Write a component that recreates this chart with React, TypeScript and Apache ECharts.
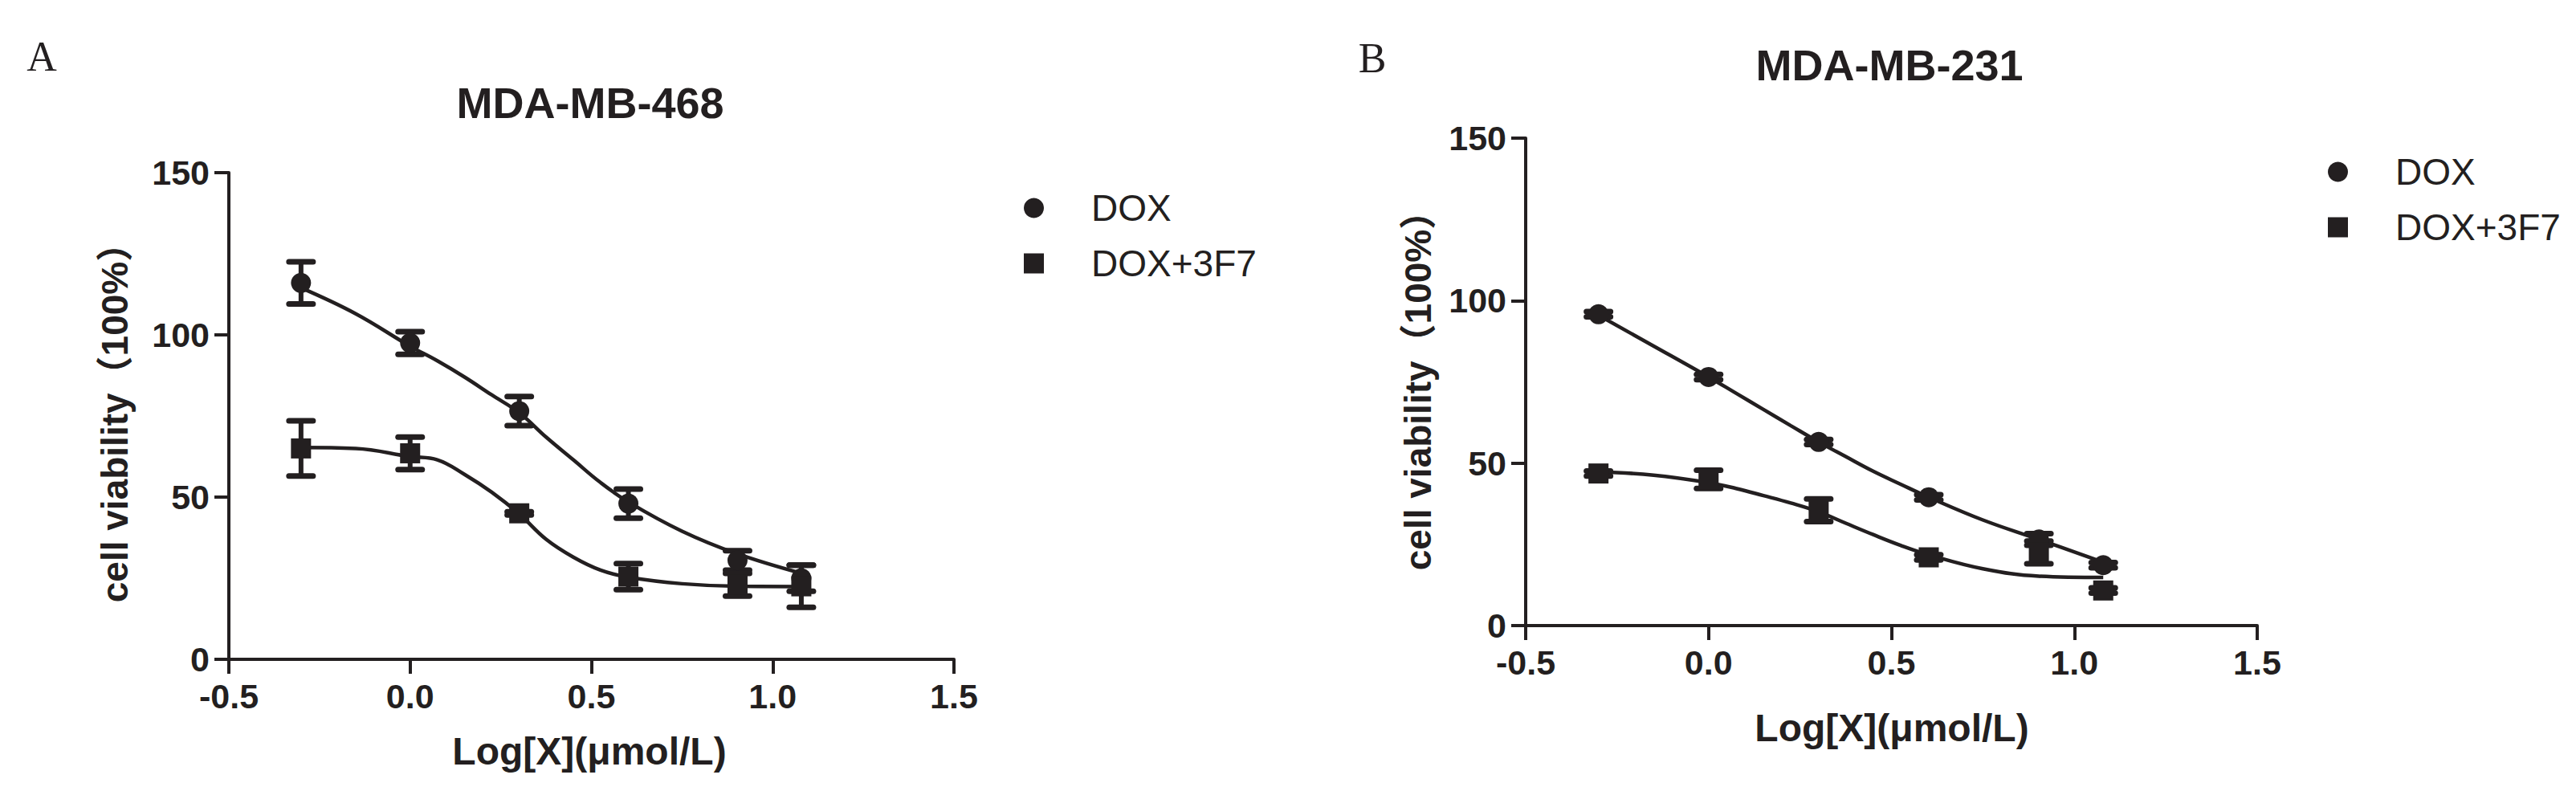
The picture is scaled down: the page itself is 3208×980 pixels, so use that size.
import React, { useEffect, useRef } from "react";
import * as echarts from "echarts";

const INK = "#231f20";
const SANS = '"Liberation Sans", Arial, Helvetica, "Noto Sans CJK SC", sans-serif';
const SERIF = '"Liberation Serif", "Times New Roman", serif';

// log10 of doses (µmol/L): 0.5, 1, 2, 4, 8, 12
const doses = [-0.301, 0, 0.301, 0.602, 0.903, 1.079];
const xTicks = [-0.5, 0.0, 0.5, 1.0, 1.5];
const yTicks = [0, 50, 100, 150];
const seriesNames = ["DOX", "DOX+3F7"];

// Panel A: MDA-MB-468
const doxA = [116, 97.5, 76.5, 48, 30.5, 25];
const doxAErr = [6.5, 3.5, 4.5, 4.5, 3, 4];
const comboA = [65, 63.5, 45, 25.5, 23, 22.5];
const comboAErr = [8.5, 5, 0.5, 4, 3.5, 6.5];

// Panel B: MDA-MB-231
const doxB = [95.8, 76.5, 56.5, 39.5, 26.5, 18.6];
const doxBErr = [0.8, 0.8, 0.8, 0.8, 1.8, 0.8];
const comboB = [46.8, 45, 35.5, 21, 22.5, 10.8];
const comboBErr = [0.8, 2.8, 3.5, 0.8, 3.5, 0.8];

// fitted curves
const fitX = [-0.301, -0.15, 0, 0.075, 0.15, 0.225, 0.301, 0.375, 0.45, 0.525, 0.602, 0.75, 0.903, 1.079];
const doxAFit = [114.5, 106.5, 96.5, 92, 87, 81.5, 76, 68.5, 61.5, 54.5, 48.5, 39.5, 32.5, 26.5];
const comboAFit = [65.3, 65, 62.5, 61.5, 57, 51.5, 44.8, 37, 31.5, 27.5, 25.3, 23.3, 22.5, 22.4];
const doxBFit = [95.5, 86, 76.5, 71.5, 66.5, 61.5, 56.5, 52, 47.5, 43.5, 39.5, 32.5, 26.5, 19.5];
const comboBFit = [47.3, 46.3, 44, 42.2, 40, 37.7, 35, 31.5, 28, 24.7, 21.8, 17.5, 15.2, 14.8];

const pairs = (xs: number[], ys: number[]) => xs.map((x, i) => [x, ys[i]]);
const errs = (xs: number[], ys: number[], es: number[]) =>
  xs.map((x, i) => [x, ys[i] - es[i], ys[i] + es[i]]);

const renderErr = (_params: any, api: any) => {
  const x = api.value(0);
  const lo = api.value(1);
  const hi = api.value(2);
  const top = api.coord([x, hi]);
  const bot = api.coord([x, lo]);
  const hw = 15;
  return {
    type: "group",
    children: [
      { type: "line", shape: { x1: top[0], y1: top[1], x2: bot[0], y2: bot[1] }, style: { stroke: INK, lineWidth: 6 } },
      { type: "line", shape: { x1: top[0] - hw, y1: top[1], x2: top[0] + hw, y2: top[1] }, style: { stroke: INK, lineWidth: 7, lineCap: "round" } },
      { type: "line", shape: { x1: bot[0] - hw, y1: bot[1], x2: bot[0] + hw, y2: bot[1] }, style: { stroke: INK, lineWidth: 7, lineCap: "round" } },
    ],
  };
};

const axisCommon = {
  axisLine: { show: true, onZero: false, lineStyle: { color: INK, width: 4 } },
  axisTick: { show: true, inside: false, length: 18, lineStyle: { color: INK, width: 4 } },
  splitLine: { show: false },
};

const makeX = (gridIndex: number) => ({
  type: "value",
  gridIndex,
  min: xTicks[0],
  max: xTicks[xTicks.length - 1],
  interval: 0.5,
  ...axisCommon,
  axisLabel: {
    margin: 24,
    fontSize: 43,
    fontWeight: "bold",
    fontFamily: SANS,
    color: INK,
    formatter: (v: number) => v.toFixed(1),
  },
});

const makeY = (gridIndex: number) => ({
  type: "value",
  gridIndex,
  min: yTicks[0],
  max: yTicks[yTicks.length - 1],
  interval: 50,
  ...axisCommon,
  axisLabel: { margin: 24, fontSize: 43, fontWeight: "bold", fontFamily: SANS, color: INK },
});

const panelSeries = (idx: number, dox: number[], doxE: number[], combo: number[], comboE: number[], doxFit: number[], comboFit: number[]) => [
  {
    name: "DOX fit " + idx, type: "line", xAxisIndex: idx, yAxisIndex: idx, data: pairs(fitX, doxFit),
    smooth: 0.4, showSymbol: false, lineStyle: { color: INK, width: 4.5 }, z: 2,
  },
  {
    name: "DOX+3F7 fit " + idx, type: "line", xAxisIndex: idx, yAxisIndex: idx, data: pairs(fitX, comboFit),
    smooth: 0.4, showSymbol: false, lineStyle: { color: INK, width: 4.5 }, z: 2,
  },
  {
    name: "DOX err " + idx, type: "custom", xAxisIndex: idx, yAxisIndex: idx, data: errs(doses, dox, doxE),
    renderItem: renderErr, encode: { x: 0, y: [1, 2] }, z: 3,
  },
  {
    name: "DOX+3F7 err " + idx, type: "custom", xAxisIndex: idx, yAxisIndex: idx, data: errs(doses, combo, comboE),
    renderItem: renderErr, encode: { x: 0, y: [1, 2] }, z: 3,
  },
  {
    name: seriesNames[0], type: "scatter", xAxisIndex: idx, yAxisIndex: idx, data: pairs(doses, dox),
    symbol: "circle", symbolSize: 25, itemStyle: { color: INK, opacity: 1 }, z: 4,
  },
  {
    name: seriesNames[1], type: "scatter", xAxisIndex: idx, yAxisIndex: idx, data: pairs(doses, combo),
    symbol: "rect", symbolSize: 25, itemStyle: { color: INK, opacity: 1 }, z: 4,
  },
];

const legendAt = (left: number, top: number) => ({
  left,
  top,
  orient: "vertical",
  itemWidth: 25,
  itemHeight: 25,
  itemGap: 23,
  selectedMode: false,
  itemStyle: { color: INK, opacity: 1 },
  data: [
    { name: seriesNames[0], icon: "circle" },
    { name: seriesNames[1], icon: "rect" },
  ],
  textStyle: { fontSize: 46, lineHeight: 46, fontFamily: SANS, color: INK, padding: [0, 0, 0, 54] },
});

const txt = (text: string, x: number, y: number, size: number, opts: any = {}) => ({
  type: "text",
  x,
  y,
  rotation: opts.rotation || 0,
  style: {
    text,
    fontSize: size,
    fontFamily: opts.family || SANS,
    fontWeight: opts.weight || "bold",
    fill: INK,
    align: "center",
    verticalAlign: "middle",
  },
});

export default function App() {
  const ref = useRef<HTMLDivElement>(null);
  useEffect(() => {
    if (!ref.current) return;
    const chart = echarts.init(ref.current, undefined, { renderer: "svg" });
    chart.setOption({
      animation: false,
      backgroundColor: "#ffffff",
      grid: [
        { left: 285, top: 215, width: 903, height: 606 },
        { left: 1900, top: 172, width: 911, height: 607 },
      ],
      xAxis: [makeX(0), makeX(1)],
      yAxis: [makeY(0), makeY(1)],
      legend: [legendAt(1270, 231), legendAt(2894, 186)],
      series: [
        ...panelSeries(0, doxA, doxAErr, comboA, comboAErr, doxAFit, comboAFit),
        ...panelSeries(1, doxB, doxBErr, comboB, comboBErr, doxBFit, comboBFit),
      ],
      graphic: [
        txt("A", 52, 70, 52, { family: SERIF, weight: "normal" }),
        txt("MDA-MB-468", 735, 128, 54),
        txt("cell viability\uff08100%\uff09", 143, 515, 46, { rotation: Math.PI / 2 }),
        txt("Log[X](\u03bcmol/L)", 734, 935, 48),
        txt("B", 1709, 72, 52, { family: SERIF, weight: "normal" }),
        txt("MDA-MB-231", 2353, 81, 54),
        txt("cell viability\uff08100%\uff09", 1766, 475, 46, { rotation: Math.PI / 2 }),
        txt("Log[X](\u03bcmol/L)", 2356, 906, 48),
      ],
    });
    return () => chart.dispose();
  }, []);
  return (
    <div
      ref={ref}
      style={{ position: "absolute", left: 0, top: 0, width: 3208, height: 980, background: "#fff" }}
    />
  );
}
